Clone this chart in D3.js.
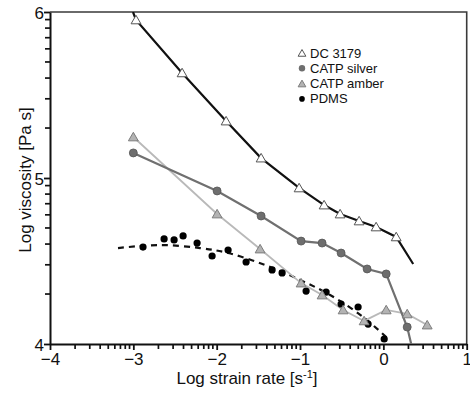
<!DOCTYPE html>
<html>
<head>
<meta charset="utf-8">
<script src="https://cdn.jsdelivr.net/npm/d3@7"></script>
<style>
  body { margin: 0; background: #fff; }
  text { font-family: "Liberation Sans", Arial, sans-serif; }
</style>
</head>
<body>
<div id="chart"></div>
<script>
// data (log strain rate, log viscosity)
let dcX = [-2.968, -2.415, -1.887, -1.467, -1.011, -0.711, -0.519, -0.291, -0.087, 0.154];
let dcY = [5.952, 5.633, 5.343, 5.120, 4.940, 4.837, 4.783, 4.741, 4.705, 4.645];
let dcStart = [-3.004, 6.0];
let dcEnd = [0.358, 4.482];

let silverX = [-3.0, -1.995, -1.467, -0.987, -0.735, -0.507, -0.195, 0.034, 0.286];
let silverY = [5.151, 4.922, 4.771, 4.620, 4.608, 4.548, 4.452, 4.422, 4.102];
let silverEnd = [0.334, 4.0];

let amberX = [-3.0, -1.995, -1.479, -0.987, -0.735, -0.483, -0.231, 0.034, 0.286, 0.526];
let amberY = [5.247, 4.783, 4.572, 4.367, 4.295, 4.205, 4.139, 4.205, 4.181, 4.114];

let pdmsX = [-2.884, -2.631, -2.511, -2.403, -2.235, -2.055, -1.863, -1.647, -1.335, -1.215, -0.927, -0.687, -0.507, -0.303, -0.183, 0.010];
let pdmsY = [4.584, 4.633, 4.627, 4.651, 4.608, 4.530, 4.566, 4.494, 4.446, 4.428, 4.319, 4.313, 4.241, 4.223, 4.120, 4.030];

let fitX = [-3.184, -2.679, -2.199, -1.863, -1.419, -0.999, -0.639, -0.243, 0.046];
let fitY = [4.578, 4.596, 4.578, 4.548, 4.476, 4.386, 4.295, 4.163, 4.036];

let xTicks = [-4, -3, -2, -1, 0, 1];
let yTicks = [4, 5, 6];
let legendNames = ["DC 3179", "CATP silver", "CATP amber", "PDMS"];

let width = 470, height = 395;
let mLeft = 50, mRight = 466.7, mTop = 12, mBottom = 344;

let svg = d3.select("#chart").append("svg")
    .attr("width", width)
    .attr("height", height);

let x = d3.scaleLinear().domain([-4, 1]).range([mLeft, mRight]);
let y = d3.scaleLinear().domain([4, 6]).range([mBottom, mTop]);

svg.append("clipPath").attr("id", "plot-clip")
    .append("rect")
    .attr("x", mLeft).attr("y", mTop)
    .attr("width", mRight - mLeft).attr("height", mBottom - mTop);

// minor ticks, log spaced inside each decade
let minorX = [], minorY = [];
xTicks.slice(0, -1).forEach(function(t) {
    for (let k = 2; k <= 9; k++) minorX.push(t + Math.log10(k));
});
yTicks.slice(0, -1).forEach(function(t) {
    for (let k = 2; k <= 9; k++) minorY.push(t + Math.log10(k));
});

// frame (top and right)
svg.append("path")
    .attr("d", "M" + mLeft + "," + mTop + "H" + mRight + "V" + mBottom)
    .attr("fill", "none")
    .attr("stroke", "#3a3a3a")
    .attr("stroke-width", 1.6);

// axes
let xAxis = svg.append("g")
    .attr("transform", "translate(0," + mBottom + ")")
    .call(d3.axisBottom(x).tickValues(xTicks).tickFormat(d3.format("d")).tickSize(6).tickSizeOuter(0));
let yAxis = svg.append("g")
    .attr("transform", "translate(" + mLeft + ",0)")
    .call(d3.axisLeft(y).tickValues(yTicks).tickFormat(d3.format("d")).tickSize(6).tickSizeOuter(0));

[xAxis, yAxis].forEach(function(a) {
    a.select(".domain").attr("stroke", "#111").attr("stroke-width", 2);
    a.selectAll(".tick line").attr("stroke", "#111").attr("stroke-width", 1.8);
    a.selectAll(".tick text")
        .attr("fill", "#111")
        .style("font-size", "17px")
        .style("font-family", "'Liberation Sans', Arial, sans-serif");
});
xAxis.selectAll(".tick text").attr("y", 9);
yAxis.selectAll(".tick text").attr("x", -6).attr("dy", "0.36em");

let minorG = svg.append("g").attr("class", "minor-ticks");
minorG.selectAll(".mx").data(minorX).enter().append("line")
    .attr("class", "mx")
    .attr("x1", d => x(d)).attr("x2", d => x(d))
    .attr("y1", mBottom).attr("y2", mBottom + 5)
    .style("stroke", "#111").style("stroke-width", "1.7px");
minorG.selectAll(".my").data(minorY).enter().append("line")
    .attr("class", "my")
    .attr("y1", d => y(d)).attr("y2", d => y(d))
    .attr("x1", mLeft).attr("x2", mLeft - 5)
    .style("stroke", "#111").style("stroke-width", "1.7px");

// axis titles
let xt = svg.append("text")
    .attr("x", 247).attr("y", 384)
    .attr("text-anchor", "middle")
    .style("font-size", "17px")
    .attr("fill", "#111");
xt.append("tspan").text("Log strain rate [s");
xt.append("tspan").attr("dy", -6).style("font-size", "11px").text("-1");
xt.append("tspan").attr("dy", 6).text("]");

svg.append("text")
    .attr("transform", "translate(31,180) rotate(-90)")
    .attr("text-anchor", "middle")
    .style("font-size", "17px")
    .attr("fill", "#111")
    .text("Log viscosity [Pa s]");

let plot = svg.append("g").attr("clip-path", "url(#plot-clip)");

let line = d3.line().x(d => x(d[0])).y(d => y(d[1]));
let triangle = d3.symbol().type(d3.symbolTriangle).size(42);
let smallTriangle = d3.symbol().type(d3.symbolTriangle).size(26);

let dcPts = d3.zip(dcX, dcY);
let silverPts = d3.zip(silverX, silverY);
let amberPts = d3.zip(amberX, amberY);
let pdmsPts = d3.zip(pdmsX, pdmsY);
let fitPts = d3.zip(fitX, fitY);

// PDMS fit, dashed
plot.append("path")
    .attr("d", line.curve(d3.curveCatmullRom)(fitPts))
    .attr("fill", "none")
    .attr("stroke", "#111")
    .attr("stroke-width", 2.2)
    .attr("stroke-dasharray", "6,5");
line.curve(d3.curveLinear);

// amber
plot.append("path")
    .attr("d", line(amberPts))
    .attr("fill", "none")
    .attr("stroke", "#b9b9b9")
    .attr("stroke-width", 1.8);

// silver
plot.append("path")
    .attr("d", line(silverPts.concat([silverEnd])))
    .attr("fill", "none")
    .attr("stroke", "#707070")
    .attr("stroke-width", 2.2);

// DC 3179
plot.append("path")
    .attr("d", line([dcStart].concat(dcPts, [dcEnd])))
    .attr("fill", "none")
    .attr("stroke", "#111")
    .attr("stroke-width", 2.2);

plot.selectAll(".pdms").data(pdmsPts).enter().append("circle")
    .attr("class", "pdms")
    .attr("cx", d => x(d[0])).attr("cy", d => y(d[1]))
    .attr("r", 3.6)
    .attr("fill", "#000");

plot.selectAll(".amber").data(amberPts).enter().append("path")
    .attr("class", "amber")
    .attr("d", triangle)
    .attr("transform", d => "translate(" + x(d[0]) + "," + (y(d[1]) + 1) + ")")
    .attr("fill", "#b3b3b3")
    .attr("stroke", "#7d7d7d")
    .attr("stroke-width", 1);

plot.selectAll(".silver").data(silverPts).enter().append("circle")
    .attr("class", "silver")
    .attr("cx", d => x(d[0])).attr("cy", d => y(d[1]))
    .attr("r", 4)
    .attr("fill", "#6e6e6e")
    .attr("stroke", "#555")
    .attr("stroke-width", 0.8);

plot.selectAll(".dc").data(dcPts).enter().append("path")
    .attr("class", "dc")
    .attr("d", triangle)
    .attr("transform", d => "translate(" + x(d[0]) + "," + (y(d[1]) + 1) + ")")
    .attr("fill", "#fff")
    .attr("stroke", "#555")
    .attr("stroke-width", 1);

// legend
let legend = svg.append("g").attr("transform", "translate(302,53)");
let items = legend.selectAll("g").data(legendNames).enter().append("g")
    .attr("transform", (d, i) => "translate(0," + i * 15.3 + ")");

items.each(function(d, i) {
    let g = d3.select(this);
    if (i === 0 || i === 2) {
        g.append("path")
            .attr("d", smallTriangle)
            .attr("transform", "translate(0,1)")
            .attr("fill", i === 0 ? "#fff" : "#b3b3b3")
            .attr("stroke", i === 0 ? "#555" : "#7d7d7d")
            .attr("stroke-width", 1);
    } else {
        g.append("circle")
            .attr("r", i === 1 ? 3.2 : 2.8)
            .attr("fill", i === 1 ? "#6e6e6e" : "#000");
    }
    g.append("text")
        .attr("x", 8).attr("dy", "0.35em")
        .style("font-size", "13px")
        .attr("fill", "#111")
        .text(d);
});
</script>
</body>
</html>
